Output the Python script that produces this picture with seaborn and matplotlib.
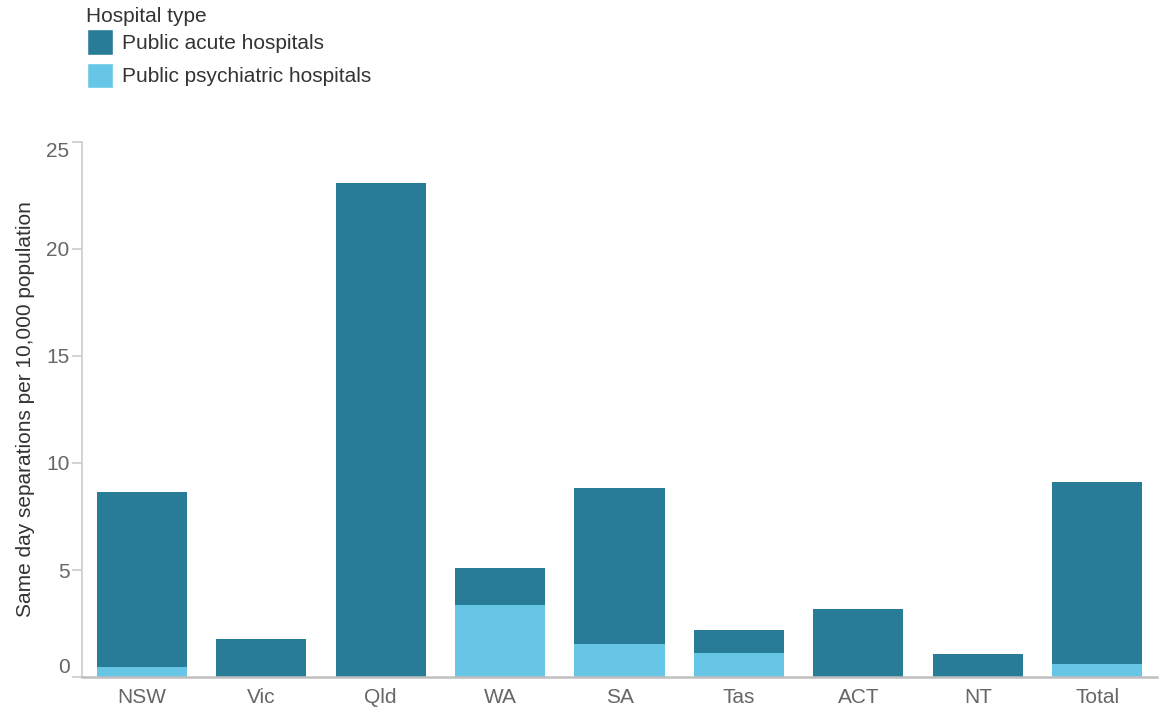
import numpy as np
import pandas as pd
import seaborn as sns
import matplotlib.pyplot as plt
from matplotlib.patches import Patch

# Data
states = ['NSW', 'Vic', 'Qld', 'WA', 'SA', 'Tas', 'ACT', 'NT', 'Total']
acute = [8.18, 1.78, 23.08, 1.73, 7.29, 1.08, 3.18, 1.07, 8.50]
psychiatric = [0.47, 0.0, 0.0, 3.36, 1.54, 1.12, 0.0, 0.0, 0.61]

acute_col = '#297c97'
psych_col = '#67c6e6'

df = pd.DataFrame({'state': states, 'acute': acute, 'psych': psychiatric})
df['total'] = df['acute'] + df['psych']

sns.set_theme(style='white')
plt.rcParams['font.family'] = ['Liberation Sans', 'DejaVu Sans']

fig = plt.figure(figsize=(11.61, 7.09), dpi=100)
ax = fig.add_axes([82 / 1161, 1 - 677 / 709, 1075 / 1161, 535 / 709])

# stacked bars: full height in acute colour, psychiatric part drawn over the bottom
sns.barplot(data=df, x='state', y='total', color=acute_col, width=0.755,
            saturation=1, ax=ax, order=states)
sns.barplot(data=df, x='state', y='psych', color=psych_col, width=0.755,
            saturation=1, ax=ax, order=states)
for p in ax.patches:
    p.set_edgecolor('none')

ax.set_xlim(-0.5, 8.5)
ax.set_ylim(0, 25)
ax.set_yticks([0, 5, 10, 15, 20, 25])
ax.set_xlabel('')
ax.set_ylabel('Same day separations per 10,000 population', fontsize=15,
              color='#333333', labelpad=8)

sns.despine(ax=ax, top=True, right=True)
ax.spines['left'].set_color('#cccccc')
ax.spines['left'].set_linewidth(1.2)
ax.spines['bottom'].set_color('#bfbfbf')
ax.spines['bottom'].set_linewidth(1.8)

ax.tick_params(axis='y', which='both', left=True, length=7, width=1.2,
               color='#cccccc', labelsize=15, labelcolor='#666666', pad=2)
ax.tick_params(axis='x', bottom=False, labelsize=15, labelcolor='#666666', pad=2)

ylabels = ax.get_yticklabels()
ylabels[0].set_va('bottom')
ylabels[-1].set_va('top')

# legend title drawn separately so the rows can sit closer to it
fig.text(86 / 1161, 1 - 17 / 709, 'Hospital type', fontsize=15,
         color='#333333', va='center', ha='left')
handles = [Patch(facecolor=acute_col, label='Public acute hospitals'),
           Patch(facecolor=psych_col, label='Public psychiatric hospitals')]
leg = fig.legend(handles=handles, loc='upper left',
                 bbox_to_anchor=(83 / 1161, 1 - 25 / 709), frameon=False,
                 fontsize=15, handlelength=1.25, handleheight=1.5,
                 handletextpad=0.4, labelspacing=0.4, borderaxespad=0,
                 borderpad=0.2)
for t in leg.get_texts():
    t.set_color('#333333')

plt.savefig('out.png', dpi=100)
